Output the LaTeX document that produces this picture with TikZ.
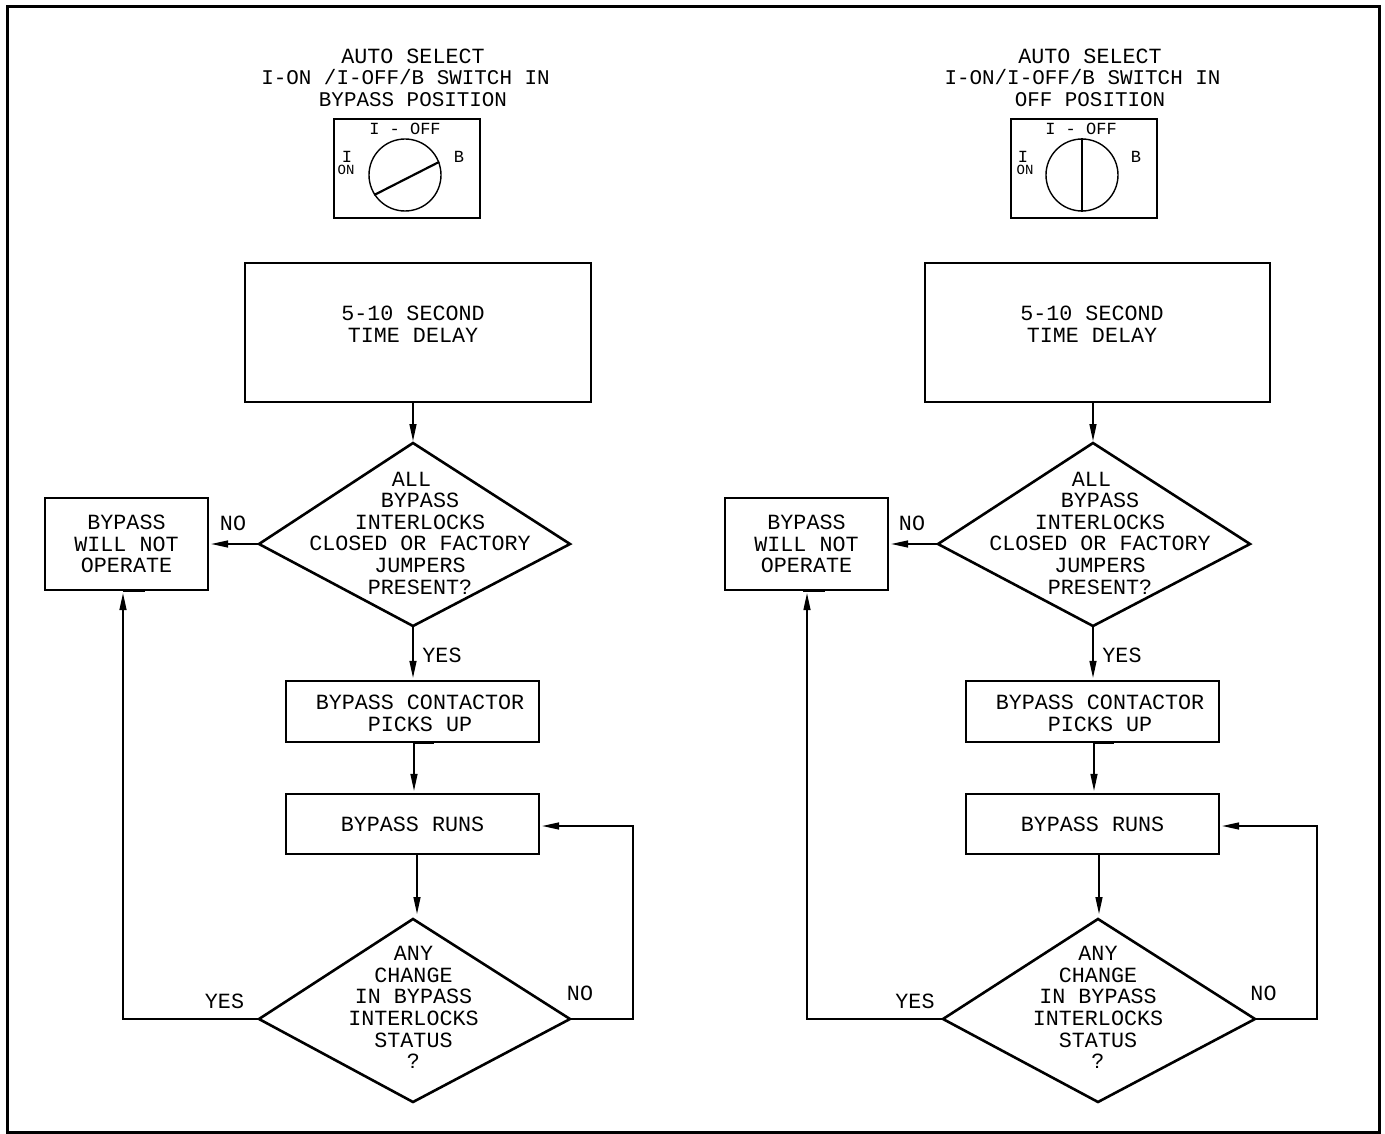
\documentclass[tikz,border=0pt]{standalone}
\usepackage{fontspec}
\setmainfont{Liberation Mono}
\usetikzlibrary{arrows.meta, calc}
\newcommand{\cadtext}{\fontsize{21.7}{21.6}\selectfont}
\newcommand{\cadtitle}{\fontsize{20.9}{21.6}\selectfont}
\newcommand{\cadsmall}{\fontsize{17}{17}\selectfont}
\newcommand{\cadtiny}{\fontsize{14}{14}\selectfont}
\tikzset{
  flowbox/.style = {draw, line width=2.3pt, inner sep=0pt, align=center, font=\cadtext},
  txt/.style     = {inner sep=0pt, align=center, font=\cadtext},
  panel/.style   = {draw, line width=1.4pt, inner sep=0pt, minimum width=146, minimum height=99},
  dial/.style    = {circle, draw, line width=1.4pt, inner sep=0pt, minimum size=72},
  hand/.style    = {line width=2.2pt},
  kite/.style    = {line width=2.6pt, line join=miter},
  arr/.style     = {-{Triangle[length=17pt,width=7pt]}, line width=1.4pt, shorten >=2pt},
  lin/.style     = {line width=1.4pt},
  dialtxt/.style = {inner sep=0pt, font=\cadsmall},
  ontxt/.style   = {inner sep=0pt, font=\cadtiny},
}
\begin{document}
\begin{tikzpicture}[x=1pt, y=-1pt]
  \useasboundingbox (0,0) rectangle (1385,1134);
  \draw[line width=3pt] (7,7) rectangle (1379.5,1132.5);

  % left switch
  \node[txt] (titleL) at (413,77.5) {AUTO SELECT\\
    \mbox{\cadtitle I-ON /I-OFF/B SWITCH IN\hspace{15pt}}\\\mbox{\cadtitle BYPASS POSITION}};
  \node[panel] (panelL) at (407,168.5) {};
  \node[dial] (dialL) at (405,175) {};
  \draw[hand] (dialL.213) -- (dialL.21);
  \node[dialtxt] (offL) at (405,129) {I - OFF};
  \node[dialtxt] (inL) at (347,157) {I};
  \node[ontxt] (onL) at (346,170) {ON};
  \node[dialtxt] (bL) at (459,157) {B};

  % right switch
  \node[txt] (titleR) at (1090,77.5) {AUTO SELECT\\
    \mbox{\cadtitle I-ON/I-OFF/B SWITCH IN\hspace{15pt}}\\\mbox{\cadtitle OFF POSITION}};
  \node[panel] (panelR) at (1084,168.5) {};
  \node[dial] (dialR) at (1082,175) {};
  \draw[hand] (dialR.north) -- (dialR.south);
  \node[dialtxt] (offR) at (1081,129) {I - OFF};
  \node[dialtxt] (inR) at (1023,157) {I};
  \node[ontxt] (onR) at (1025,170) {ON};
  \node[dialtxt] (bR) at (1136,157) {B};

  % left flow boxes
  \node[flowbox, minimum width=346, minimum height=139] (delayL) at (418,332.5) {};
  \node[txt] (delaytxtL) at (413,324) {5-10 SECOND\\TIME DELAY};
  \node[flowbox, minimum width=163, minimum height=92] (failL) at (126.5,544) {BYPASS\\WILL NOT\\OPERATE};
  \node[flowbox, minimum width=253, minimum height=61] (contactL) at (412.5,711.5) {};
  \node[txt] (contacttxtL) at (420,713.5) {BYPASS CONTACTOR\\PICKS UP};
  \node[flowbox, minimum width=253, minimum height=60] (runsL) at (412.5,824) {BYPASS RUNS};

  % left questions
  \coordinate (q1nL) at (413,443);
  \coordinate (q1wL) at (259,544);
  \coordinate (q1eL) at (570,544);
  \coordinate (q1sL) at (413,626);
  \draw[kite] (q1nL) -- (q1eL) -- (q1sL) -- (q1wL) -- cycle;
  \node[txt] (q1txtL) at (420,533) {ALL\hspace*{17pt}\\BYPASS\\INTERLOCKS\\CLOSED OR FACTORY\\JUMPERS\\PRESENT?};
  \coordinate (q2nL) at (413,919);
  \coordinate (q2wL) at (259,1019);
  \coordinate (q2eL) at (570,1019);
  \coordinate (q2sL) at (413,1102);
  \draw[kite] (q2nL) -- (q2eL) -- (q2sL) -- (q2wL) -- cycle;
  \node[txt] (q2txtL) at (413.5,1007.5) {ANY\\CHANGE\\IN BYPASS\\INTERLOCKS\\STATUS\\?};
  \coordinate (loopL) at (633,826);

  % left arrows
  \draw[arr] (q1nL |- delayL.south) -- (q1nL);
  \draw[arr] (q1wL) -- (q1wL -| failL.east);
  \draw[arr] (q1sL) -- (q1sL |- contactL.north);
  \draw[arr] ([xshift=1.5pt]contactL.south) -- ([xshift=1.5pt]runsL.north);
  \draw[arr, shorten >=5pt] ([xshift=4.5pt]runsL.south) -- ([xshift=4pt]q2nL);
  \draw[arr] (q2eL) -| (loopL) -- (runsL.east |- loopL);
  \draw[arr] (q2wL) -| ([xshift=-3.5pt]failL.south);
  \draw[lin, line width=2.6pt] ([xshift=-3.5pt]failL.south) -- ([xshift=18.5pt]failL.south);
  \draw[lin] ([xshift=1.5pt]contactL.south) -- ([xshift=21.5pt]contactL.south);

  % left labels
  \node[txt] (noaL) at (233,523) {NO};
  \node[txt] (yesaL) at (442,655) {YES};
  \node[txt] (yesbL) at (224.5,1001) {YES};
  \node[txt] (nobL) at (580,993) {NO};

  % right flow boxes
  \node[flowbox, minimum width=345, minimum height=139] (delayR) at (1097.5,332.5) {};
  \node[txt] (delaytxtR) at (1092,324) {5-10 SECOND\\TIME DELAY};
  \node[flowbox, minimum width=163, minimum height=92] (failR) at (806.5,544) {BYPASS\\WILL NOT\\OPERATE};
  \node[flowbox, minimum width=253, minimum height=61] (contactR) at (1092.5,711.5) {};
  \node[txt] (contacttxtR) at (1100,713.5) {BYPASS CONTACTOR\\PICKS UP};
  \node[flowbox, minimum width=253, minimum height=60] (runsR) at (1092.5,824) {BYPASS RUNS};

  % right questions
  \coordinate (q1nR) at (1093,443);
  \coordinate (q1wR) at (938,544);
  \coordinate (q1eR) at (1250,544);
  \coordinate (q1sR) at (1093,626);
  \draw[kite] (q1nR) -- (q1eR) -- (q1sR) -- (q1wR) -- cycle;
  \node[txt] (q1txtR) at (1100,533) {ALL\hspace*{17pt}\\BYPASS\\INTERLOCKS\\CLOSED OR FACTORY\\JUMPERS\\PRESENT?};
  \coordinate (q2nR) at (1098,919);
  \coordinate (q2wR) at (943,1019);
  \coordinate (q2eR) at (1255,1019);
  \coordinate (q2sR) at (1098,1102);
  \draw[kite] (q2nR) -- (q2eR) -- (q2sR) -- (q2wR) -- cycle;
  \node[txt] (q2txtR) at (1098,1007.5) {ANY\\CHANGE\\IN BYPASS\\INTERLOCKS\\STATUS\\?};
  \coordinate (loopR) at (1317,826);

  % right arrows
  \draw[arr] (q1nR |- delayR.south) -- (q1nR);
  \draw[arr] (q1wR) -- (q1wR -| failR.east);
  \draw[arr] (q1sR) -- (q1sR |- contactR.north);
  \draw[arr] ([xshift=1.5pt]contactR.south) -- ([xshift=1.5pt]runsR.north);
  \draw[arr, shorten >=5pt] ([xshift=6.5pt]runsR.south) -- ([xshift=1pt]q2nR);
  \draw[arr] (q2eR) -| (loopR) -- (runsR.east |- loopR);
  \draw[arr] (q2wR) -| ([xshift=0.5pt]failR.south);
  \draw[lin, line width=2.6pt] ([xshift=-3.5pt]failR.south) -- ([xshift=18pt]failR.south);
  \draw[lin] ([xshift=1.5pt]contactR.south) -- ([xshift=21.5pt]contactR.south);

  % right labels
  \node[txt] (noaR) at (912,523) {NO};
  \node[txt] (yesaR) at (1122,655) {YES};
  \node[txt] (yesbR) at (915,1001) {YES};
  \node[txt] (nobR) at (1263.5,993) {NO};
\end{tikzpicture}
\end{document}
